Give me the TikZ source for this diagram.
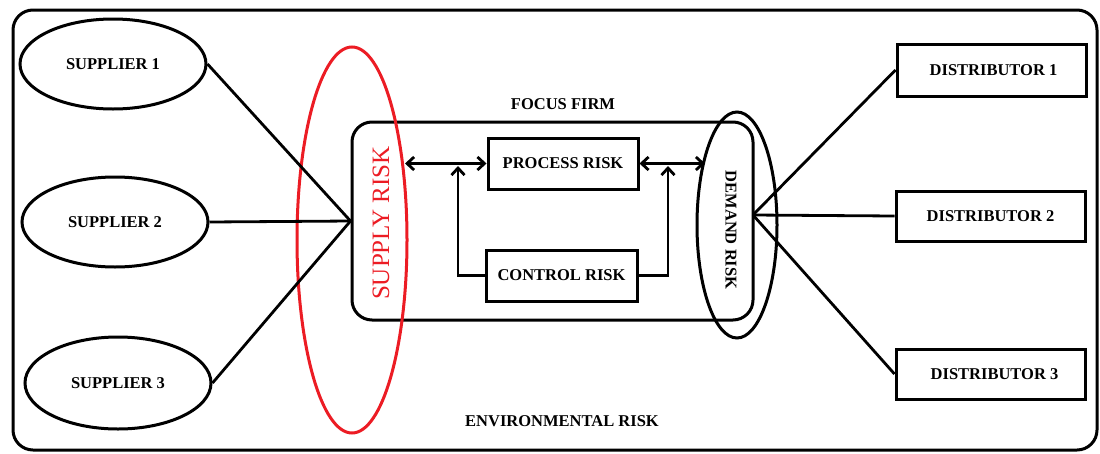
\documentclass[tikz,border=0pt]{standalone}
\usepackage{fontspec}
\setmainfont{Liberation Serif}
\usetikzlibrary{shapes.geometric,arrows.meta}
\definecolor{riskred}{RGB}{236,28,36}
\begin{document}
\begin{tikzpicture}[x=1pt,y=-1pt,
  lbl/.style={font=\bfseries\fontsize{16.5}{19}\selectfont, text=black},
  supp/.style={ellipse, draw, line width=3pt, minimum width=186pt, minimum height=90pt, inner sep=0pt, lbl},
  dist/.style={rectangle, draw, line width=3pt, minimum width=189pt, minimum height=51pt, inner sep=0pt, lbl},
  riskbox/.style={rectangle, draw, line width=3pt, minimum width=151pt, minimum height=51pt, inner sep=0pt, lbl},
  conn/.style={line width=2.8pt},
  arr/.style={line width=2.8pt, arrows={-Straight Barb[length=7pt,width=13pt]}},
  darr/.style={line width=2.8pt, arrows={Straight Barb[length=7pt,width=13pt]-Straight Barb[length=7pt,width=13pt]}}
]
\useasboundingbox (0,0) rectangle (1100,453);
% outer frame
\draw[line width=3pt, rounded corners=20pt] (13,10) rectangle (1097,450);

% focus firm
\node[draw, line width=3pt, rounded corners=20pt, minimum width=401pt, minimum height=198pt, inner sep=0pt] (firm) at (552.5,221) {};
\node[lbl] (firmlbl) at (563,104) {FOCUS FIRM};
\node[lbl] (envlbl) at (562,421) {ENVIRONMENTAL RISK};

% suppliers
\node[supp] (s1) at (113,64) {SUPPLIER 1};
\node[supp] (s2) at (115,222) {SUPPLIER 2};
\node[supp, minimum height=92pt] (s3) at (118,383) {SUPPLIER 3};

% distributors
\node[dist, minimum height=52pt] (d1) at (991.5,70) {\hspace*{4pt}DISTRIBUTOR 1};
\node[dist, minimum height=50pt] (d2) at (990.5,216) {DISTRIBUTOR 2};
\node[dist, minimum height=50pt] (d3) at (990.5,374) {\hspace*{8pt}DISTRIBUTOR 3};

% inner risks
\node[riskbox, minimum width=150pt] (proc) at (563,163.5) {PROCESS RISK};
\node[riskbox] (ctrl) at (561.5,275.5) {CONTROL RISK};

% supply risk ellipse and text
\node[ellipse, draw=riskred, line width=3pt, minimum width=110pt, minimum height=386pt, inner sep=0pt] (supell) at (352,240) {};
\node[rotate=90, text=riskred, font=\fontsize{25}{28}\selectfont, inner sep=0pt] (suptext) at (381,223) {SUPPLY RISK};

% demand risk ellipse and text
\node[ellipse, draw, line width=3pt, minimum width=80pt, minimum height=226pt, inner sep=0pt] (demell) at (737,225) {};
\node[rotate=-90, lbl, inner sep=0pt] (demtext) at (731,230) {DEMAND RISK};

% supplier connectors
\draw[conn] (s1.east) -- (firm.west);
\draw[conn] (s2.east) -- (firm.west);
\draw[conn] (s3.east) -- (firm.west);

% distributor connectors
\coordinate (dj) at (753,215);
\draw[conn] (dj) -- (d1.west);
\draw[conn] (dj) -- (d2.west);
\draw[conn] (dj) -- (d3.west);

% arrows
\coordinate (a1) at (405,163.5);
\coordinate (a2) at (705,163.5);
\draw[darr] (a1) -- (proc.west);
\draw[darr] (proc.east) -- (a2);
\coordinate (v1) at (458,166);
\coordinate (v2) at (668,166);
\draw[arr] (ctrl.west) -| (v1);
\draw[arr] (ctrl.east) -| (v2);
\end{tikzpicture}
\end{document}
